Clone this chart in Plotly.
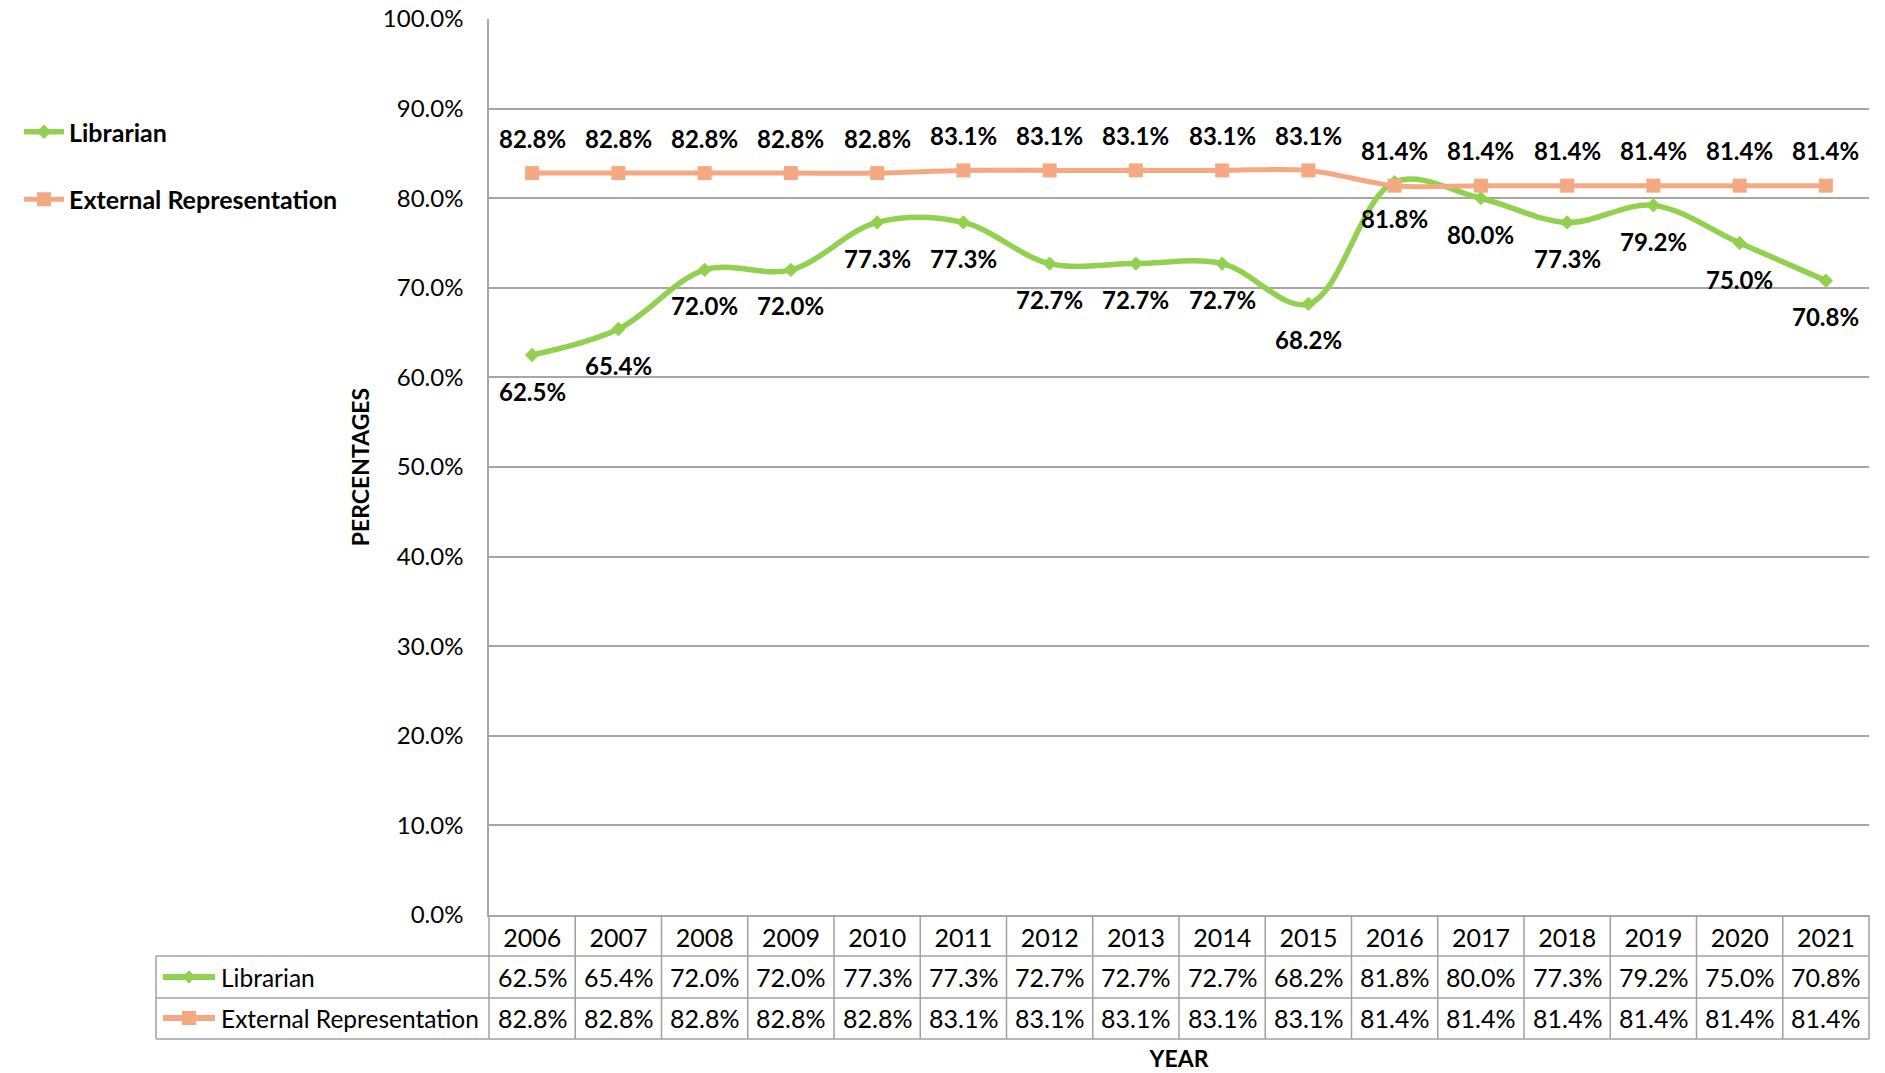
import plotly.graph_objects as go

# ---------------- data ----------------
years = ["2006", "2007", "2008", "2009", "2010", "2011", "2012", "2013",
         "2014", "2015", "2016", "2017", "2018", "2019", "2020", "2021"]
librarian = [62.5, 65.4, 72.0, 72.0, 77.3, 77.3, 72.7, 72.7,
             72.7, 68.2, 81.8, 80.0, 77.3, 79.2, 75.0, 70.8]
external = [82.8, 82.8, 82.8, 82.8, 82.8, 83.1, 83.1, 83.1,
            83.1, 83.1, 81.4, 81.4, 81.4, 81.4, 81.4, 81.4]
series_names = ["Librarian", "External Representation"]
y_ticks = [0, 10, 20, 30, 40, 50, 60, 70, 80, 90, 100]

# ---------------- styling ----------------
W, H = 1885, 1073
L, R, T, B = 489, 16, 19, 158
PW, PH = W - L - R, H - T - B
FONT = "Lato"
GREEN = "#92D050"
SALMON = "#F4A983"
GRID = "#A6A6A6"
TBL = "#A0A0A0"


def xp(px):
    return (px - L) / PW


def yp(py):
    return (H - B - py) / PH


xs = list(range(len(years)))

fig = go.Figure()
fig.add_trace(go.Scatter(
    x=xs, y=librarian, name=series_names[0], mode="lines+markers",
    line=dict(color=GREEN, width=5.5, shape="spline", smoothing=1.0),
    marker=dict(symbol="diamond", size=11, color=GREEN),
    legendgroup="a", cliponaxis=False))
fig.add_trace(go.Scatter(
    x=xs, y=external, name=series_names[1], mode="lines+markers",
    line=dict(color=SALMON, width=5, shape="spline", smoothing=1.0),
    marker=dict(symbol="square", size=14, color=SALMON),
    legendgroup="b", cliponaxis=False))

ann = []
bold = dict(family=FONT, size=24, color="black", weight="bold")
reg = dict(family=FONT, size=25, color="black")
lab = dict(family=FONT, size=24.5, color="black")
tick = dict(family=FONT, size=24, color="black")
for i, v in enumerate(external):
    ann.append(dict(x=i, y=v, xref="x", yref="y", text=f"{v:.1f}%",
                    showarrow=False, yshift=35, font=bold))
for i, v in enumerate(librarian):
    ann.append(dict(x=i, y=v, xref="x", yref="y", text=f"{v:.1f}%",
                    showarrow=False, yshift=-36, font=bold))

# data table values
row_y = [yp(977), yp(1018)]
for i in xs:
    ann.append(dict(x=i, y=row_y[0], xref="x", yref="paper", text=f"{librarian[i]:.1f}%",
                    showarrow=False, font=reg, yanchor="middle"))
    ann.append(dict(x=i, y=row_y[1], xref="x", yref="paper", text=f"{external[i]:.1f}%",
                    showarrow=False, font=reg, yanchor="middle"))
for k, name in enumerate(series_names):
    ann.append(dict(x=xp(219), y=row_y[k], xref="paper", yref="paper", text=name,
                    showarrow=False, font=lab, xanchor="left", yanchor="middle"))

# table grid
shapes = []
line_style = dict(color=TBL, width=1.5)
n = len(years)
for i in range(n + 1):
    shapes.append(dict(type="line", xref="paper", yref="paper",
                       x0=i / n, x1=i / n, y0=0, y1=yp(1039), line=line_style))
for py in (956, 998, 1039):
    shapes.append(dict(type="line", xref="paper", yref="paper",
                       x0=xp(156), x1=1, y0=yp(py), y1=yp(py), line=line_style))
shapes.append(dict(type="line", xref="paper", yref="paper",
                   x0=xp(156), x1=xp(156), y0=yp(956), y1=yp(1039), line=line_style))

# legend keys inside the table
for k, (col, sym) in enumerate([(GREEN, "diamond"), (SALMON, "square")]):
    cy = [977, 1018][k]
    shapes.append(dict(type="line", xref="paper", yref="paper",
                       x0=xp(163), x1=xp(215), y0=yp(cy), y1=yp(cy),
                       line=dict(color=col, width=6)))
    if sym == "diamond":
        path = (f"M {xp(189)},{yp(cy - 6)} L {xp(195)},{yp(cy)} "
                f"L {xp(189)},{yp(cy + 6)} L {xp(183)},{yp(cy)} Z")
        shapes.append(dict(type="path", xref="paper", yref="paper", path=path,
                           fillcolor=col, line=dict(color=col, width=1)))
    else:
        shapes.append(dict(type="rect", xref="paper", yref="paper",
                           x0=xp(182), x1=xp(196), y0=yp(cy + 7), y1=yp(cy - 7),
                           fillcolor=col, line=dict(color=col, width=0)))

fig.update_layout(
    width=W, height=H,
    margin=dict(l=L, r=R, t=T, b=B, autoexpand=False),
    paper_bgcolor="white", plot_bgcolor="white",
    font=dict(family=FONT, size=24, color="black"),
    showlegend=True,
    legend=dict(x=xp(19), y=yp(109), xanchor="left", yanchor="top",
                font=dict(family=FONT, size=25, color="black", weight="bold"),
                tracegroupgap=32, bgcolor="rgba(0,0,0,0)", itemwidth=40),
    annotations=ann,
    shapes=shapes,
)
fig.update_xaxes(
    range=[-0.5, n - 0.5], tickmode="array", tickvals=xs, ticktext=years,
    showgrid=False, zeroline=False, showline=True, linecolor=GRID, linewidth=1.5,
    ticks="", ticklabelstandoff=0, tickfont=reg,
    title=dict(text="YEAR", standoff=100,
               font=dict(family=FONT, size=23, color="black", weight="bold")),
)
fig.update_yaxes(
    range=[0, 100], tickmode="array", tickvals=y_ticks,
    ticktext=[f"{v:.1f}%" for v in y_ticks],
    showgrid=True, gridcolor=GRID, gridwidth=1.5, zeroline=False,
    showline=True, linecolor=GRID, linewidth=1.5, ticks="",
    ticklabelstandoff=19, tickfont=tick,
    title=dict(text="PERCENTAGES", standoff=7,
               font=dict(family=FONT, size=23, color="black", weight="bold")),
)

fig.write_html("out.html", config={"displayModeBar": False},
               post_script="document.body.style.margin='0';document.body.style.overflow='hidden';")
